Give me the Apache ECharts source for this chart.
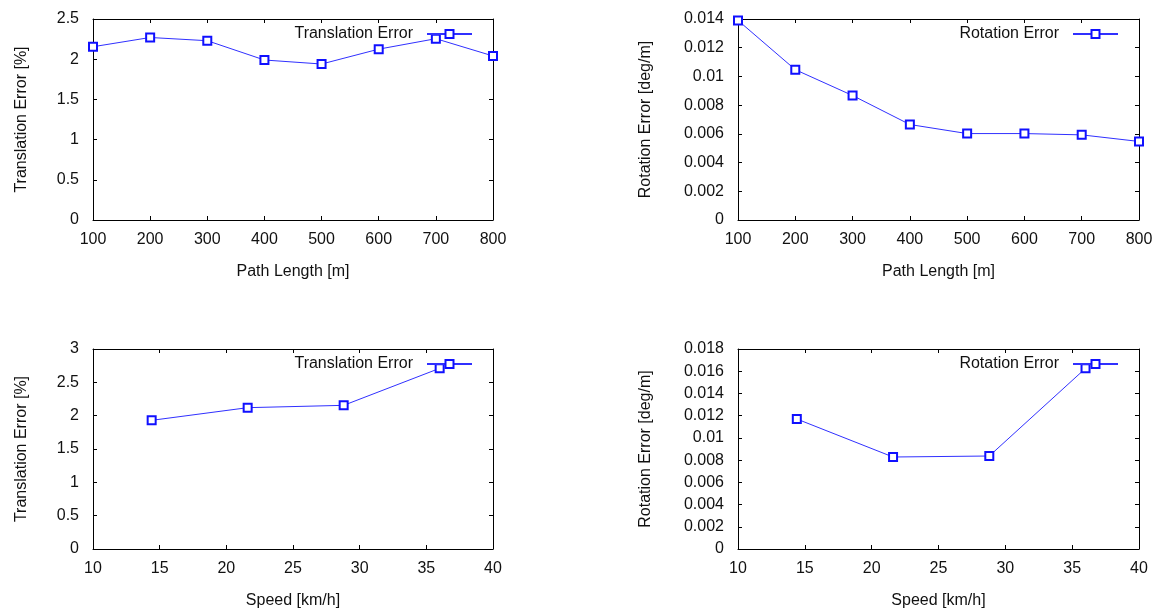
<!DOCTYPE html>
<html>
<head>
<meta charset="utf-8">
<script src="https://cdn.jsdelivr.net/npm/echarts@6/dist/echarts.min.js"></script>
<style>
  html, body { margin: 0; padding: 0; background: #fff; }
  #chart { width: 1158px; height: 615px; }
</style>
</head>
<body>
<div id="chart"></div>
<script>
// Odometry error statistics
const pathLengths = [100, 200, 300, 400, 500, 600, 700, 800];
const transErrByLength = [2.155, 2.27, 2.23, 1.99, 1.94, 2.125, 2.255, 2.04];
const rotErrByLength = [0.0139, 0.01047, 0.00867, 0.00665, 0.00602, 0.00602, 0.00593, 0.00547];

const speeds = [14.4, 21.6, 28.8, 36.0];
const transErrBySpeed = [1.93, 2.12, 2.155, 2.71];
const rotErrBySpeed = [0.0117, 0.00828, 0.00837, 0.01626];

const lengthTicks = { min: 100, max: 800, interval: 100 };
const speedTicks = { min: 10, max: 40, interval: 5 };

const FONT = 'Liberation Sans, Arial, Helvetica, sans-serif';
const TXT = '#111';
const LINE = '#3030ff';
const MARK = '#1010ff';

const grids = [
  { left: 93, top: 19, width: 400, height: 201 },
  { left: 738, top: 19, width: 401, height: 201 },
  { left: 93, top: 349, width: 400, height: 200 },
  { left: 738, top: 349, width: 401, height: 200 }
];

function pairs(xs, ys) { return xs.map((x, i) => [x, ys[i]]); }

const xAxes = [];
const yAxes = [];
function addAxes(gi, xr, yr, xName, yName, yNameGap) {
  const common = {
    gridIndex: gi, type: 'value', splitLine: { show: false },
    axisLine: { show: true, onZero: false, lineStyle: { color: '#000', width: 1 } },
    axisTick: { show: true, inside: true, length: 4, lineStyle: { color: '#000' } }
  };
  xAxes.push(Object.assign({}, common, {
    position: 'bottom', min: xr.min, max: xr.max, interval: xr.interval,
    name: xName, nameLocation: 'middle', nameGap: 44,
    nameTextStyle: { fontFamily: FONT, fontSize: 16, color: TXT },
    axisLabel: { fontFamily: FONT, fontSize: 16, color: TXT, margin: 12 }
  }));
  xAxes.push(Object.assign({}, common, {
    position: 'top', min: xr.min, max: xr.max, interval: xr.interval,
    axisLabel: { show: false }
  }));
  yAxes.push(Object.assign({}, common, {
    position: 'left', min: yr.min, max: yr.max, interval: yr.interval,
    name: yName, nameLocation: 'middle', nameGap: yNameGap, nameRotate: 90,
    nameTextStyle: { fontFamily: FONT, fontSize: 16, color: TXT },
    axisLabel: { fontFamily: FONT, fontSize: 16, color: TXT, margin: 14 }
  }));
  yAxes.push(Object.assign({}, common, {
    position: 'right', min: yr.min, max: yr.max, interval: yr.interval,
    axisLabel: { show: false }
  }));
}

addAxes(0, lengthTicks, { min: 0, max: 2.5, interval: 0.5 }, 'Path Length [m]', 'Translation Error [%]', 63);
addAxes(1, lengthTicks, { min: 0, max: 0.014, interval: 0.002 }, 'Path Length [m]', 'Rotation Error [deg/m]', 84);
addAxes(2, speedTicks, { min: 0, max: 3, interval: 0.5 }, 'Speed [km/h]', 'Translation Error [%]', 63);
addAxes(3, speedTicks, { min: 0, max: 0.018, interval: 0.002 }, 'Speed [km/h]', 'Rotation Error [deg/m]', 84);

function lineSeries(name, idx, data) {
  return {
    name: name, type: 'line', xAxisIndex: idx * 2, yAxisIndex: idx * 2,
    data: data, symbol: 'emptyRect', symbolSize: 8, showAllSymbol: true,
    color: MARK,
    lineStyle: { color: LINE, width: 1 },
    itemStyle: { color: MARK, borderColor: MARK, borderWidth: 1 },
    emphasis: { disabled: true }, animation: false
  };
}

function legendAt(name, right, top) {
  return {
    data: [name], right: right, top: top, align: 'right', orient: 'horizontal',
    padding: 0, itemWidth: 45, itemHeight: 10, selectedMode: false,
    textStyle: { fontFamily: FONT, fontSize: 16, color: TXT, padding: [0, 9, 0, 0] }
  };
}

const chart = echarts.init(document.getElementById('chart'), null, { renderer: 'canvas' });
chart.setOption({
  backgroundColor: '#fff',
  animation: false,
  grid: grids,
  xAxis: xAxes,
  yAxis: yAxes,
  legend: [
    legendAt('Translation Error', 685, 26),
    legendAt('Rotation Error', 39, 26),
    legendAt('Translation Error', 685, 356),
    legendAt('Rotation Error', 39, 356)
  ],
  series: [
    lineSeries('Translation Error', 0, pairs(pathLengths, transErrByLength)),
    lineSeries('Rotation Error', 1, pairs(pathLengths, rotErrByLength)),
    lineSeries('Translation Error', 2, pairs(speeds, transErrBySpeed)),
    lineSeries('Rotation Error', 3, pairs(speeds, rotErrBySpeed))
  ]
});
</script>
</body>
</html>
